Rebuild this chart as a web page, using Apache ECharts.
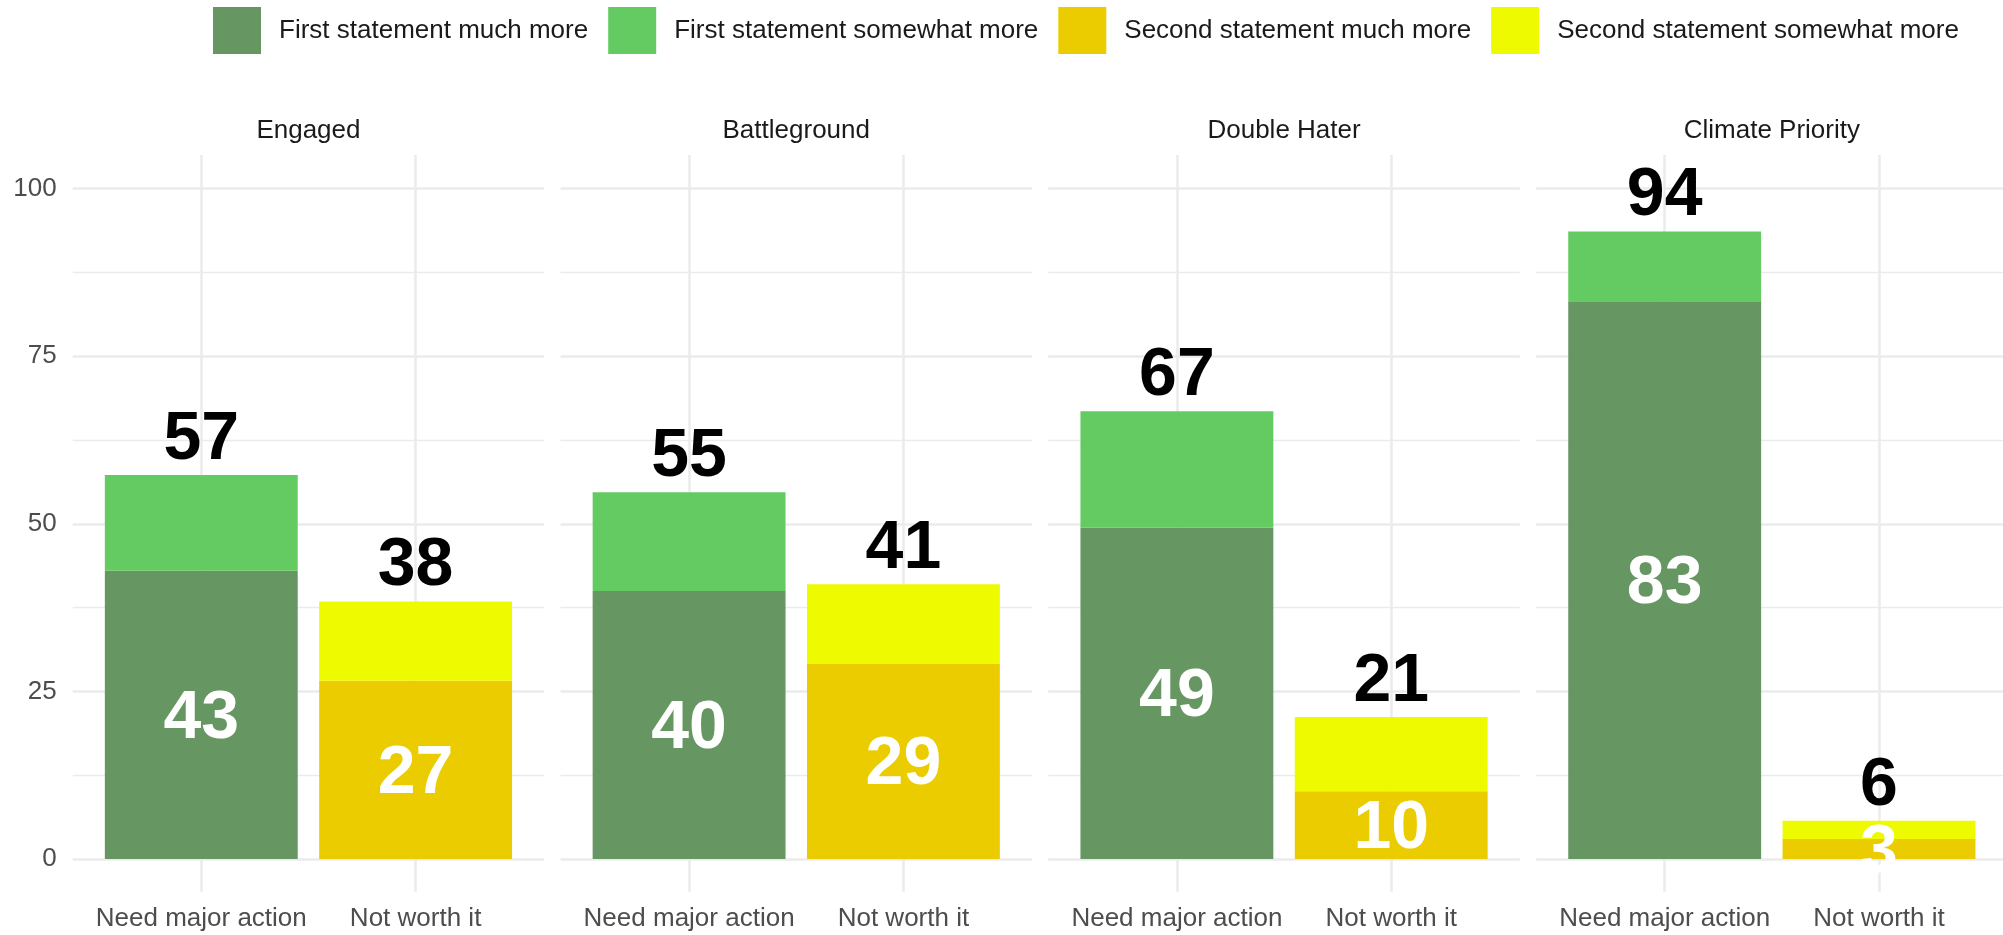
<!DOCTYPE html>
<html><head><meta charset="utf-8">
<script src="https://cdn.jsdelivr.net/npm/echarts@6/dist/echarts.min.js"></script>
<style>html,body{margin:0;padding:0;background:#fff}#c{width:2003px;height:935px}</style>
</head><body><div id="c"></div>
<script>
// ---- data ----
const groups = ['Engaged', 'Battleground', 'Double Hater', 'Climate Priority'];
const categories = ['Need major action', 'Not worth it'];
const seriesNames = ['First statement much more', 'First statement somewhat more', 'Second statement much more', 'Second statement somewhat more'];
const firstMuch = [43.0, 40.0, 49.4, 83.2];
const firstSomewhat = [14.3, 14.7, 17.4, 10.4];
const secondMuch = [26.6, 29.1, 10.1, 3.0];
const secondSomewhat = [11.8, 11.9, 11.1, 2.7];
const firstMuchLabels = ['43', '40', '49', '83'];
const firstTotalLabels = ['57', '55', '67', '94'];
const secondMuchLabels = ['27', '29', '10', '3'];
const secondTotalLabels = ['38', '41', '21', '6'];
const yMin = 0, yMax = 100, yStep = 25;

// ---- style / layout ----
const colors = ['#669763', '#63CB62', '#EBCC00', '#EEFA00'];
const FONT = "'Liberation Sans', Arial, Helvetica, sans-serif";
const P0 = 72.7, PSTEP = 487.8, PW = 471.5, U = PW / 2.2;
const YTOP = 188.7, Y0 = 859, PTOP = 155, PBOT = 891.7;
const GRID = '#EBEBEB';

const grid = [], xAxis = [], yAxis = [], series = [], graphic = [];
groups.forEach((g, k) => {
  const L = P0 + k * PSTEP;
  grid.push({left: L, top: YTOP, width: PW, height: Y0 - YTOP});
  grid.push({left: L + 0.6 * U, top: PTOP, width: U, height: PBOT - PTOP});
  grid.push({left: L + 0.1 * U, top: YTOP, width: 2 * U, height: Y0 - YTOP});
  const gi = 3 * k;
  xAxis.push({gridIndex: gi, type: 'value', min: 0, max: 1, show: false});
  yAxis.push({gridIndex: gi, type: 'value', min: yMin, max: yMax, interval: yStep,
    axisLine: {show: false}, axisTick: {show: false},
    axisLabel: {show: k === 0, fontSize: 26, color: '#4D4D4D', fontFamily: FONT, margin: 16},
    splitLine: {show: true, lineStyle: {color: GRID, width: 2.5}},
    minorTick: {show: false, splitNumber: 2},
    minorSplitLine: {show: true, lineStyle: {color: GRID, width: 1.3}}
  });
  xAxis.push({gridIndex: gi + 1, type: 'category', data: categories, boundaryGap: false,
    axisLine: {show: false}, axisTick: {show: false},
    axisLabel: {show: true, fontSize: 26, color: '#4D4D4D', fontFamily: FONT, margin: 14, interval: 0},
    splitLine: {show: true, interval: 0, lineStyle: {color: GRID, width: 2.5}}
  });
  yAxis.push({gridIndex: gi + 1, type: 'value', min: 0, max: 1, show: false});
  xAxis.push({gridIndex: gi + 2, type: 'category', data: categories, show: false});
  yAxis.push({gridIndex: gi + 2, type: 'value', min: yMin, max: yMax, show: false});

  const vals = [[firstMuch[k], '-'], [firstSomewhat[k], '-'], ['-', secondMuch[k]], ['-', secondSomewhat[k]]];
  const labs = [firstMuchLabels[k], firstTotalLabels[k], secondMuchLabels[k], secondTotalLabels[k]];
  vals.forEach((d, s) => {
    const inner = (s % 2 === 0);
    series.push({
      type: 'bar', name: seriesNames[s], xAxisIndex: gi + 2, yAxisIndex: gi + 2,
      stack: 'p' + k, data: d, barCategoryGap: '10%',
      itemStyle: {color: colors[s]},
      label: {show: true, position: inner ? 'inside' : 'top', distance: 1,
        offset: inner ? [0, 4] : [0, 0],
        formatter: () => labs[s],
        color: inner ? '#FFFFFF' : '#000000', fontSize: 68, fontWeight: 'bold', fontFamily: FONT},
      emphasis: {disabled: true}, animation: false
    });
  });
  graphic.push({type: 'text', x: L + PW / 2, y: 131,
    style: {text: g, align: 'center', verticalAlign: 'middle', fontSize: 26, fontFamily: FONT, fill: '#1A1A1A'}});
});

const chart = echarts.init(document.getElementById('c'));
chart.setOption({
  animation: false,
  backgroundColor: '#FFFFFF',
  legend: {left: 208, top: 2, itemWidth: 48, itemHeight: 47, icon: 'rect', itemGap: 20,
    data: seriesNames, selectedMode: false,
    textStyle: {fontSize: 26, color: '#1A1A1A', fontFamily: FONT, padding: [0, 0, 0, 13]}},
  grid, xAxis, yAxis, series, graphic
});
</script></body></html>
